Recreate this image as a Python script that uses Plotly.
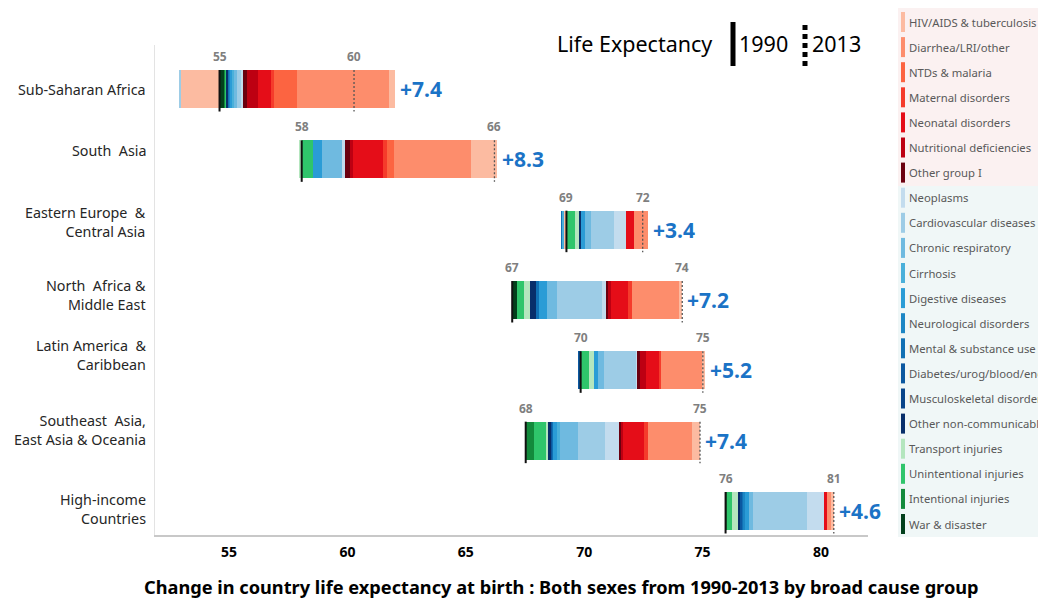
import plotly.graph_objects as go

# ---------------- data ----------------
regions = ["Sub-Saharan Africa", "South  Asia", "Eastern Europe  &<br>Central Asia",
           "North  Africa &<br>Middle East", "Latin America  &<br>Caribbean",
           "Southeast  Asia,<br>East Asia & Oceania", "High-income<br>Countries"]

causes = ["HIV/AIDS & tuberculosis", "Diarrhea/LRI/other", "NTDs & malaria",
          "Maternal disorders", "Neonatal disorders", "Nutritional deficiencies",
          "Other group I", "Neoplasms", "Cardiovascular diseases", "Chronic respiratory",
          "Cirrhosis", "Digestive diseases", "Neurological disorders",
          "Mental & substance use", "Diabetes/urog/blood/endo",
          "Musculoskeletal disorders", "Other non-communicable", "Transport injuries",
          "Unintentional injuries", "Intentional injuries", "War & disaster"]

le_1990 = [54.60, 58.07, 69.25, 66.96, 69.85, 67.53, 75.97]

# years of life expectancy gained, by cause (regions in order above)
gain_hiv         = [0.25, 1.09, 0.00, 0.12, 0.11, 0.32, 0.12]
gain_diarrhea    = [3.90, 3.27, 0.60, 2.01, 1.73, 1.86, 0.17]
gain_ntds        = [0.96, 0.28, 0.00, 0.00, 0.00, 0.00, 0.00]
gain_maternal    = [0.14, 0.20, 0.00, 0.14, 0.07, 0.17, 0.00]
gain_neonatal    = [0.52, 1.24, 0.31, 0.73, 0.56, 0.89, 0.14]
gain_nutrition   = [0.46, 0.14, 0.00, 0.14, 0.28, 0.07, 0.00]
gain_other_g1    = [0.17, 0.21, 0.00, 0.07, 0.10, 0.07, 0.00]
gain_neoplasms   = [0.12, 0.14, 0.52, 0.18, 0.04, 0.63, 0.72]
gain_cvd         = [0.16, 0.00, 0.99, 1.90, 1.37, 1.15, 2.26]
gain_chronic     = [0.12, 0.82, 0.25, 0.42, 0.25, 0.75, 0.18]
gain_cirrhosis   = [0.05, 0.00, 0.00, 0.00, 0.00, 0.14, 0.00]
gain_digestive   = [0.10, 0.38, 0.14, 0.35, 0.17, 0.14, 0.14]
gain_neuro       = [0.04, 0.00, 0.00, 0.00, 0.00, 0.00, 0.07]
gain_mental      = [0.04, 0.00, 0.00, 0.11, 0.00, 0.05, 0.07]
gain_diabetes    = [0.00, 0.00, 0.00, 0.00, 0.00, 0.05, 0.07]
gain_msk         = [0.00, 0.00, 0.00, 0.00, 0.00, 0.00, 0.00]
gain_other_ncd   = [0.07, 0.00, 0.07, 0.28, 0.00, 0.14, 0.11]
gain_transport   = [0.00, 0.00, 0.18, 0.24, 0.22, 0.04, 0.24]
gain_unintent    = [0.06, 0.49, 0.38, 0.28, 0.34, 0.54, 0.21]
gain_intent      = [0.04, 0.00, 0.00, 0.00, 0.00, 0.35, 0.07]
gain_war         = [0.21, 0.00, 0.00, 0.21, 0.00, 0.00, 0.00]

# years of life expectancy lost, by cause
loss_hiv         = [1.63, 0.00, 0.08, 0.00, 0.00, 0.00, 0.00]
loss_cvd         = [0.10, 0.00, 0.00, 0.00, 0.00, 0.00, 0.00]
loss_cirrhosis   = [0.00, 0.00, 0.07, 0.00, 0.00, 0.00, 0.00]
loss_mental      = [0.00, 0.00, 0.07, 0.00, 0.00, 0.00, 0.00]
loss_diabetes    = [0.00, 0.00, 0.00, 0.00, 0.08, 0.00, 0.00]
loss_transport   = [0.00, 0.12, 0.00, 0.00, 0.00, 0.00, 0.00]

# ---------------- styles ----------------
colors = ["#FCBBA1", "#FD8D6C", "#FC6441", "#F53B2B", "#E50D18", "#BD0012", "#6B000F",
          "#C3DCEE", "#9DCCE6", "#6FBAE0", "#4AB0DA", "#2A9CD6", "#1C86C4", "#1070B4",
          "#0B58A0", "#08458A", "#082E6A", "#B4E6BE", "#2FC56B", "#138A3C", "#03401C"]
label_dy = [0, 9, 8, 5, 15, 11, 2]
FONT = "Noto Sans"

gains = dict(zip(causes, [gain_hiv, gain_diarrhea, gain_ntds, gain_maternal, gain_neonatal,
                          gain_nutrition, gain_other_g1, gain_neoplasms, gain_cvd, gain_chronic,
                          gain_cirrhosis, gain_digestive, gain_neuro, gain_mental, gain_diabetes,
                          gain_msk, gain_other_ncd, gain_transport, gain_unintent, gain_intent,
                          gain_war]))
zero = [0.0] * len(regions)
losses = {c: zero for c in causes}
losses["HIV/AIDS & tuberculosis"] = loss_hiv
losses["Cardiovascular diseases"] = loss_cvd
losses["Cirrhosis"] = loss_cirrhosis
losses["Mental & substance use"] = loss_mental
losses["Diabetes/urog/blood/endo"] = loss_diabetes
losses["Transport injuries"] = loss_transport

# page has an 8px body margin: figure is drawn 8px in from the window corner
OFF = 8
W, H = 1046 - OFF, 599 - OFF
PL, PR, PT, PB = 155, 868, 45, 535          # plot area in window pixels
PW, PH = PR - PL, PB - PT


def px(x):
    return (x - PL) / PW


def py(y):
    return (PB - y) / PH


n = len(regions)
ypos = list(range(n))
bar_w = 0.54

gain_tot = [sum(gains[c][r] for c in causes) for r in range(n)]
loss_tot = [sum(losses[c][r] for c in causes) for r in range(n)]
le_2013 = [le_1990[r] + gain_tot[r] - loss_tot[r] for r in range(n)]

fig = go.Figure()
g_cur = list(le_1990)
l_cur = [le_1990[r] - loss_tot[r] for r in range(n)]
for ci in reversed(range(len(causes))):
    c = causes[ci]
    for vals, cur in ((losses[c], l_cur), (gains[c], g_cur)):
        if not any(vals):
            continue
        fig.add_trace(go.Bar(orientation="h", y=ypos, x=vals, base=list(cur),
                             width=bar_w, marker=dict(color=colors[ci], line=dict(width=0)),
                             name=c, showlegend=False, hoverinfo="skip"))
        for r in range(n):
            cur[r] += vals[r]

shapes = []
annotations = []
for r in range(n):
    y0, y1 = r - bar_w / 2, r + bar_w / 2 + 0.05
    shapes.append(dict(type="line", x0=le_1990[r], x1=le_1990[r], y0=y0, y1=y1,
                       line=dict(color="#111111", width=2)))
    shapes.append(dict(type="line", x0=le_2013[r], x1=le_2013[r], y0=y0, y1=y1,
                       line=dict(color="#555555", width=1.3, dash="2px,2px")))
    for v in (le_1990[r], le_2013[r]):
        annotations.append(dict(x=v, y=r - bar_w / 2, xref="x", yref="y", text=f"{round(v)}",
                                showarrow=False, yanchor="bottom", yshift=3,
                                font=dict(family=FONT, size=12, color="#7F7F7F", weight="bold")))
    annotations.append(dict(x=le_1990[r] + gain_tot[r], y=r, xref="x", yref="y",
                            text=f"+{gain_tot[r]:.1f}", showarrow=False, xanchor="left",
                            xshift=3, font=dict(family=FONT, size=21, color="#1B73C6",
                                                weight="bold")))
    annotations.append(dict(x=0, y=r, xref="paper", yref="y", text=regions[r],
                            showarrow=False, xanchor="right", xshift=-7, yshift=label_dy[r],
                            align="right", font=dict(family=FONT, size=14.3, color="#262626")))

# cause legend panel
shapes.append(dict(type="rect", xref="paper", yref="paper", x0=px(898), x1=px(1050),
                   y0=py(186), y1=py(8), fillcolor="#FBF1F1", line=dict(width=0), layer="below"))
shapes.append(dict(type="rect", xref="paper", yref="paper", x0=px(898), x1=px(1050),
                   y0=py(537), y1=py(186), fillcolor="#F0F7F7", line=dict(width=0), layer="below"))
for i, c in enumerate(causes):
    yc = 22 + i * 25.1
    shapes.append(dict(type="rect", xref="paper", yref="paper", x0=px(901), x1=px(905),
                       y0=py(yc + 10), y1=py(yc - 10), fillcolor=colors[i], line=dict(width=0)))
    annotations.append(dict(x=px(907), y=py(yc), xref="paper", yref="paper", text=c,
                            showarrow=False, xanchor="left", yanchor="middle",
                            font=dict(family=FONT, size=11.3, color="#595959")))

# year key
for txt, xl in (("Life Expectancy", 555), ("1990", 737), ("2013", 810)):
    annotations.append(dict(x=px(xl), y=py(44), xref="paper", yref="paper", text=txt,
                            showarrow=False, xanchor="left", yanchor="middle",
                            font=dict(family=FONT, size=21.5, color="#000000")))
shapes.append(dict(type="rect", xref="paper", yref="paper", x0=px(730.5), x1=px(735.5),
                   y0=py(66), y1=py(22), fillcolor="#000000", line=dict(width=0)))
shapes.append(dict(type="line", xref="paper", yref="paper", x0=px(805), x1=px(805),
                   y0=py(66), y1=py(22), line=dict(color="#000000", width=5, dash="5px,4px")))

# bottom title
annotations.append(dict(x=px(561), y=py(586.5), xref="paper", yref="paper",
                        text="Change in country life expectancy at birth : Both sexes from 1990-2013 by broad cause group",
                        showarrow=False, xanchor="center", yanchor="middle",
                        font=dict(family=FONT, size=18.2, color="#000000", weight="bold")))

y_top = (PT - 89) / 70.33
y_bot = (PB - 89) / 70.33
x_lo = 55 + (PL - 229) / 23.68
x_hi = 55 + (PR - 229) / 23.68

fig.update_layout(
    width=W, height=H, autosize=False,
    margin=dict(l=PL - OFF, r=W - (PR - OFF), t=PT - OFF, b=H - (PB - OFF), pad=0),
    paper_bgcolor="white", plot_bgcolor="white",
    barmode="overlay", bargap=0,
    showlegend=False,
    font=dict(family=FONT),
    xaxis=dict(range=[x_lo, x_hi], tickvals=[55, 60, 65, 70, 75, 80], showgrid=False,
               zeroline=False, showline=True, linecolor="#C8C8C8", linewidth=2, ticks="",
               tickfont=dict(family=FONT, size=14, color="#000000", weight="bold"),
               ticklabelstandoff=3),
    yaxis=dict(range=[y_bot, y_top], showticklabels=False, showgrid=False, zeroline=False,
               showline=True, linecolor="#E3E3E3", linewidth=1, ticks=""),
    shapes=shapes, annotations=annotations,
)

fig.write_html("out.html")
